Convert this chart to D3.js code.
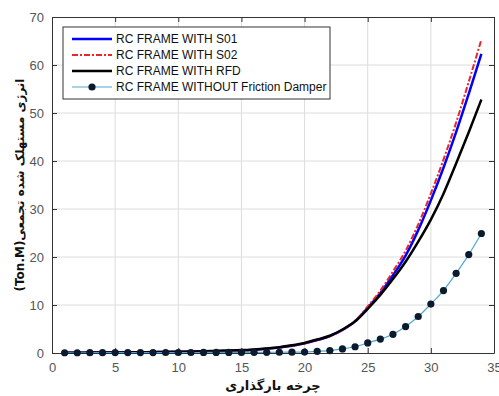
<!DOCTYPE html>
<html>
<head>
<meta charset="utf-8">
<script src="https://cdn.jsdelivr.net/npm/d3@7"></script>
<style>
  body { margin: 0; background: #fff; }
  svg { display: block; }
</style>
</head>
<body>
<svg id="chart" width="499" height="396"></svg>
<script>
// loading cycles 1..34
const cycles = d3.range(1, 35);

// cumulative dissipated energy (Ton.M)
const s01 = [0.04, 0.05, 0.07, 0.09, 0.11, 0.13, 0.15, 0.17, 0.2, 0.23,
  0.27, 0.32, 0.38, 0.45, 0.55, 0.7, 0.9, 1.15, 1.5, 2.0,
  2.7, 3.5, 4.8, 6.6, 9.4, 12.5, 16.2, 20.3, 25.6, 31.8,
  38.6, 46.0, 54.0, 62.3];
const s02 = [0.04, 0.05, 0.07, 0.09, 0.11, 0.13, 0.15, 0.17, 0.2, 0.23,
  0.27, 0.32, 0.38, 0.45, 0.55, 0.7, 0.9, 1.15, 1.5, 2.0,
  2.7, 3.5, 4.8, 6.7, 9.7, 13.0, 17.0, 21.3, 26.8, 33.2,
  40.3, 48.0, 56.5, 65.3];
const rfd = [0.05, 0.06, 0.08, 0.1, 0.12, 0.14, 0.16, 0.19, 0.22, 0.26,
  0.3, 0.35, 0.42, 0.5, 0.6, 0.75, 0.95, 1.2, 1.6, 2.1,
  2.8, 3.6, 4.9, 6.6, 9.2, 12.1, 15.4, 19.0, 23.2, 27.8,
  33.2, 39.5, 46.0, 52.8];
const noDamper = [0.05, 0.05, 0.06, 0.06, 0.08, 0.08, 0.08, 0.09, 0.1, 0.1,
  0.1, 0.11, 0.12, 0.12, 0.13, 0.14, 0.15, 0.16, 0.17, 0.2,
  0.35, 0.5, 0.85, 1.3, 2.1, 2.9, 3.9, 5.5, 7.6, 10.2,
  13.0, 16.6, 20.5, 24.9];

const seriesNames = ['RC FRAME WITH S01', 'RC FRAME WITH S02', 'RC FRAME WITH RFD',
  'RC FRAME WITHOUT Friction Damper'];
const xTicks = [0, 5, 10, 15, 20, 25, 30, 35];
const yTicks = [0, 10, 20, 30, 40, 50, 60, 70];
const xTitle = 'چرخه بارگذاری';
const yTitle = 'انرژی مستهلک شده تجمعی(Ton.M)';

const margin = { top: 17, right: 5, bottom: 43, left: 52 };
const width = 499 - margin.left - margin.right;
const height = 396 - margin.top - margin.bottom;

const svg = d3.select('#chart');
const g = svg.append('g')
  .attr('transform', `translate(${margin.left},${margin.top})`);

const x = d3.scaleLinear().domain([0, 35]).range([0, width]);
const y = d3.scaleLinear().domain([0, 70]).range([height, 0]);

// grid
g.append('g').selectAll('line').data(xTicks.slice(1, -1)).join('line')
  .attr('x1', d => x(d)).attr('x2', d => x(d))
  .attr('y1', 0).attr('y2', height)
  .attr('stroke', '#dcdcdc').attr('stroke-width', 1);
g.append('g').selectAll('line').data(yTicks.slice(1, -1)).join('line')
  .attr('y1', d => y(d)).attr('y2', d => y(d))
  .attr('x1', 0).attr('x2', width)
  .attr('stroke', '#dcdcdc').attr('stroke-width', 1);

// axes, ticks inward on all four sides
const tickFont = '13px "Liberation Sans", Arial, sans-serif';
function styleAxis(sel, showText) {
  sel.select('.domain').attr('stroke', '#333').attr('stroke-width', 1);
  sel.selectAll('.tick line').attr('stroke', '#333');
  sel.selectAll('.tick text')
    .style('font', tickFont)
    .attr('fill', '#555')
    .style('display', showText ? null : 'none');
}
g.append('g').attr('transform', `translate(0,${height})`)
  .call(d3.axisBottom(x).tickValues(xTicks).tickSizeInner(-5).tickSizeOuter(0).tickPadding(10))
  .call(s => styleAxis(s, true));
g.append('g')
  .call(d3.axisTop(x).tickValues(xTicks).tickSizeInner(-5).tickSizeOuter(0))
  .call(s => styleAxis(s, false));
g.append('g')
  .call(d3.axisLeft(y).tickValues(yTicks).tickSizeInner(-5).tickSizeOuter(0).tickPadding(8))
  .call(s => styleAxis(s, true));
g.append('g').attr('transform', `translate(${width},0)`)
  .call(d3.axisRight(y).tickValues(yTicks).tickSizeInner(-5).tickSizeOuter(0))
  .call(s => styleAxis(s, false));

// series
const line = d3.line().x((d, i) => x(cycles[i])).y(d => y(d)).curve(d3.curveMonotoneX);

g.append('path').datum(s01).attr('d', line)
  .attr('fill', 'none').attr('stroke', '#0000ff').attr('stroke-width', 2.5);
g.append('path').datum(s02).attr('d', line)
  .attr('fill', 'none').attr('stroke', '#e8262b').attr('stroke-width', 2)
  .attr('stroke-dasharray', '6,2,2,2');
g.append('path').datum(rfd).attr('d', line)
  .attr('fill', 'none').attr('stroke', '#000').attr('stroke-width', 2.5);
g.append('path').datum(noDamper).attr('d', line)
  .attr('fill', 'none').attr('stroke', '#4fa8cc').attr('stroke-width', 1.2);
g.append('g').selectAll('circle').data(noDamper).join('circle')
  .attr('cx', (d, i) => x(cycles[i])).attr('cy', d => y(d))
  .attr('r', 3.6).attr('fill', '#0b1a2c');

// legend
const lg = svg.append('g').attr('transform', 'translate(63,27)');
lg.append('rect').attr('width', 267).attr('height', 72)
  .attr('fill', '#fff').attr('stroke', '#333').attr('stroke-width', 1);
const legendStyles = [
  { stroke: '#0000ff', w: 2.5, dash: null, dot: false },
  { stroke: '#e8262b', w: 2, dash: '6,2,2,2', dot: false },
  { stroke: '#000', w: 2.5, dash: null, dot: false },
  { stroke: '#4fa8cc', w: 1.2, dash: null, dot: true }
];
seriesNames.forEach((name, i) => {
  const ry = 12 + i * 16;
  const st = legendStyles[i];
  lg.append('line').attr('x1', 9).attr('x2', 49).attr('y1', ry).attr('y2', ry)
    .attr('stroke', st.stroke).attr('stroke-width', st.w)
    .attr('stroke-dasharray', st.dash);
  if (st.dot) {
    lg.append('circle').attr('cx', 29).attr('cy', ry).attr('r', 3.6).attr('fill', '#0b1a2c');
  }
  lg.append('text').attr('x', 53).attr('y', ry + 4)
    .style('font', '12px "Liberation Sans", Arial, sans-serif')
    .attr('fill', '#111').text(name);
});

// axis titles
svg.append('text')
  .attr('x', margin.left + width / 2).attr('y', 390)
  .attr('text-anchor', 'middle')
  .style('font', 'bold 13px "DejaVu Sans", sans-serif')
  .attr('fill', '#111').text(xTitle);
svg.append('text')
  .attr('transform', `translate(24,${margin.top + height / 2}) rotate(-90)`)
  .attr('text-anchor', 'middle')
  .attr('direction', 'rtl')
  .style('font', 'bold 12px "DejaVu Sans", sans-serif')
  .attr('fill', '#111').text(yTitle);
</script>
</body>
</html>
